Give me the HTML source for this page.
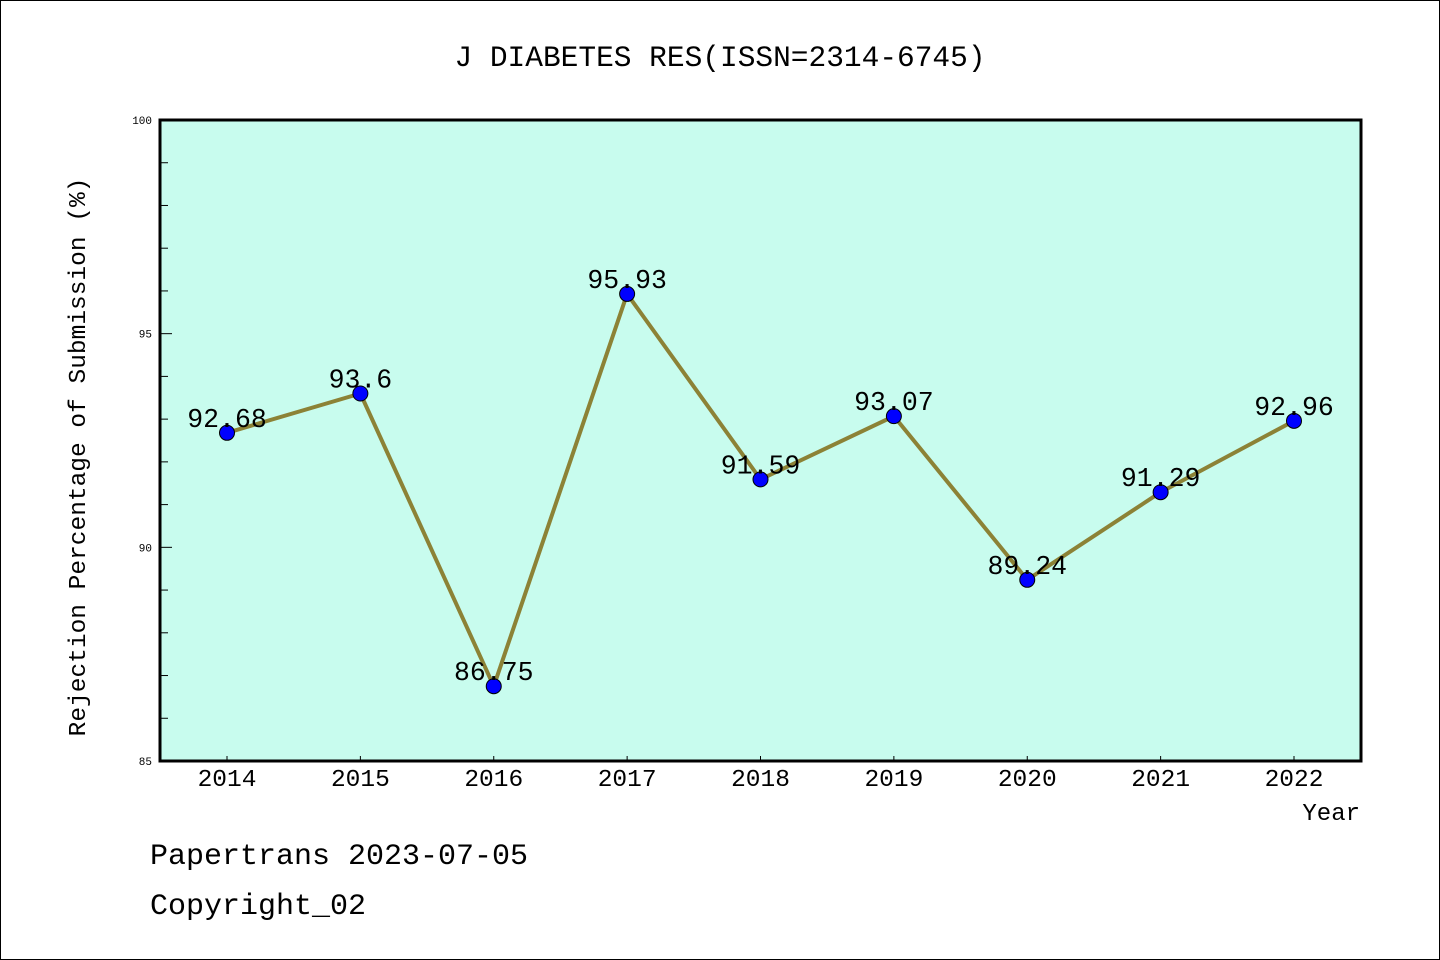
<!DOCTYPE html>
<html><head><meta charset="utf-8"><style>
html,body{margin:0;padding:0;background:#fff;}
svg{display:block;font-family:"Liberation Mono","WenQuanYi Zen Hei",monospace;}
</style></head><body>
<svg id="c" width="1440" height="960">
<rect x="0.5" y="0.5" width="1439" height="959" fill="#fff" stroke="#000"/>
<text x="720" y="66" text-anchor="middle" font-size="29.5">J DIABETES RES(ISSN=2314-6745)</text>
<rect x="160" y="120" width="1201" height="641" fill="#c8fcee"/>
<g id="ticks"></g>
<g id="series"></g>
<rect x="160" y="120" width="1201" height="641" fill="none" stroke="#000" stroke-width="3"/>
<text transform="translate(85,457) rotate(-90)" text-anchor="middle" font-size="24.5">Rejection Percentage of Submission (%)</text>
<text x="1360" y="820" text-anchor="end" font-size="24">Year</text>
<text x="150" y="864" font-size="30">Papertrans 2023-07-05</text>
<text x="150" y="914" font-size="30">Copyright_02</text>
</svg>
<script>
const years = ["2014","2015","2016","2017","2018","2019","2020","2021","2022"];
const values = [92.68,93.6,86.75,95.93,91.59,93.07,89.24,91.29,92.96];
const yTicks = [85,90,95,100];
const yMin = 85, yMax = 100;
const NS="http://www.w3.org/2000/svg";
function xs(i){return 227+i*(1294-227)/(years.length-1);}
function ys(v){return 761-(v-yMin)/(yMax-yMin)*641;}
function mk(tag,attrs,parent){const e=document.createElementNS(NS,tag);for(const k in attrs)e.setAttribute(k,attrs[k]);parent.appendChild(e);return e;}
const tg=document.getElementById('ticks'), sg=document.getElementById('series');
for(let v=yMin+1;v<yMax;v++){
  const major=(v%5===0);
  const t=mk('line',{x1:160,x2:160+(major?12:8),y1:ys(v),y2:ys(v),stroke:'#000','stroke-width':1},tg);
  
  
}
yTicks.forEach(v=>{
  const t=mk('text',{x:152,y:ys(v)+4,'text-anchor':'end','font-size':11},tg);
  t.textContent=v;
  
  
});
years.forEach((y,i)=>{
  const t=mk('line',{x1:xs(i),x2:xs(i),y1:761,y2:756,stroke:'#000','stroke-width':1},tg);
  
  
  const l=mk('text',{x:xs(i),y:786,'text-anchor':'middle','font-size':24.5},tg);
  l.textContent=y;
  
  
});
const pts=values.map((v,i)=>xs(i)+','+ys(v)).join(' ');
const line=mk('polyline',{points:pts,fill:'none',stroke:'#8c8236','stroke-width':4,'stroke-linejoin':'round'},sg);


values.forEach((v,i)=>{
  const c=mk('circle',{cx:xs(i),cy:ys(v),r:7.5,fill:'#0000ff',stroke:'#000','stroke-width':1},sg);
  
  
  const t=mk('text',{x:xs(i),y:ys(v)-6,'text-anchor':'middle','font-size':26.5},sg);
  t.textContent=String(v);
  
  
});
</script>
</body></html>
